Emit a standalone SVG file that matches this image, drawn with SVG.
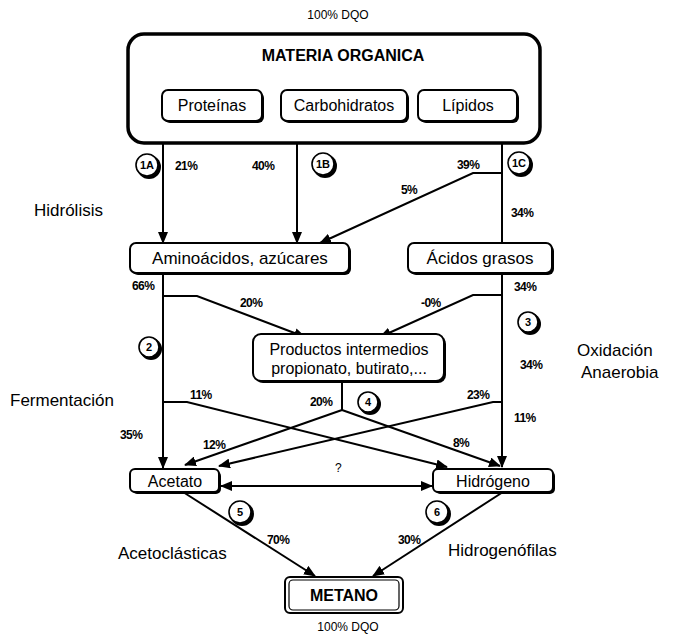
<svg xmlns="http://www.w3.org/2000/svg" width="674" height="635" viewBox="0 0 674 635">
  <style>
    text { font-family: "Liberation Sans", Arial, sans-serif; fill: #000; }
    .lbl { font-size: 16px; text-anchor: middle; }
    .big { font-size: 16px; font-weight: bold; text-anchor: middle; }
    .side { font-size: 17px; }
    .pct { font-size: 12px; font-weight: bold; letter-spacing: -0.6px; }
    .dqo { font-size: 12px; text-anchor: middle; }
    .box { fill: #fff; stroke: #000; stroke-width: 2; }
    .shadow { fill: #000; }
    .link { fill: none; stroke: #000; stroke-width: 2; }
    .arr { marker-end: url(#head); }
    .step circle.face { fill: #fff; stroke: #000; stroke-width: 1.6; }
    .step text { font-size: 11px; font-weight: bold; text-anchor: middle; }
  </style>
  <defs>
    <marker id="head" markerUnits="userSpaceOnUse" markerWidth="12" markerHeight="10" refX="11" refY="5" orient="auto-start-reverse">
      <path d="M0,0 L12,5 L0,10 z" fill="#000"/>
    </marker>
  </defs>

  <rect width="674" height="635" fill="#fff"/>

  <!-- top label -->
  <text class="dqo" x="338" y="19">100% DQO</text>

  <!-- organic matter with its three fractions -->
  <g id="materia-organica">
    <rect x="128" y="34" width="412" height="109" rx="16" fill="#fff" stroke="#000" stroke-width="3.5"/>
    <text class="big" x="343" y="61">MATERIA ORGANICA</text>
  </g>
  <g id="proteinas">
    <rect class="shadow" x="164" y="92" width="100" height="31" rx="6"/>
    <rect class="box" x="162" y="90" width="100" height="31" rx="6"/>
    <text class="lbl" x="212" y="111">Proteínas</text>
  </g>
  <g id="carbohidratos">
    <rect class="shadow" x="283" y="92" width="126" height="31" rx="6"/>
    <rect class="box" x="281" y="90" width="126" height="31" rx="6"/>
    <text class="lbl" x="344" y="111">Carbohidratos</text>
  </g>
  <g id="lipidos">
    <rect class="shadow" x="420" y="92" width="99" height="31" rx="6"/>
    <rect class="box" x="418" y="90" width="99" height="31" rx="6"/>
    <text class="lbl" x="468" y="111">Lípidos</text>
  </g>

  <!-- connectors -->
  <g id="connectors">
    <path class="link arr" d="M163,143 V243"/>
    <path class="link arr" d="M297,143 V243"/>
    <path class="link" d="M502,143 V243"/>
    <path class="link arr" d="M502,173 H473 L320,243"/>
    <path class="link arr" d="M163,273 V468"/>
    <path class="link arr" d="M163,296 H197 L305,337"/>
    <path class="link arr" d="M502,295 H473 L380,337"/>
    <path class="link arr" d="M502,273 V467"/>
    <path class="link arr" d="M163,402 H187 L447,467"/>
    <path class="link arr" d="M502,402 H493 L219,466"/>
    <path class="link" d="M342,382 V410"/>
    <path class="link arr" d="M342,410 L185,465"/>
    <path class="link arr" d="M342,410 L500,466"/>
    <path class="link" d="M221,486 H432" marker-start="url(#head)" marker-end="url(#head)"/>
    <path class="link arr" d="M183,492 L315,576"/>
    <path class="link arr" d="M503,492 L373,576"/>
  </g>

  <!-- intermediate nodes -->
  <g id="aminoacidos">
    <rect class="shadow" x="132" y="245" width="219" height="30" rx="6"/>
    <rect class="box" x="130" y="243" width="219" height="30" rx="6"/>
    <text class="lbl" x="240" y="264" style="font-size:17px">Aminoácidos, azúcares</text>
  </g>
  <g id="acidos-grasos">
    <rect class="shadow" x="410" y="245" width="144" height="30" rx="6"/>
    <rect class="box" x="408" y="243" width="144" height="30" rx="6"/>
    <text class="lbl" x="480" y="264" style="font-size:17px">Ácidos grasos</text>
  </g>
  <g id="productos-intermedios">
    <rect class="shadow" x="255" y="336" width="191" height="47" rx="8"/>
    <rect class="box" x="253" y="334" width="191" height="47" rx="8"/>
    <text class="lbl" x="349" y="355">Productos intermedios</text>
    <text class="lbl" x="349" y="374">propionato, butirato,...</text>
  </g>
  <g id="acetato">
    <rect class="shadow" x="132" y="471" width="89" height="23" rx="5"/>
    <rect class="box" x="130" y="469" width="89" height="23" rx="5"/>
    <text class="lbl" x="175" y="487">Acetato</text>
  </g>
  <g id="hidrogeno">
    <rect class="shadow" x="435" y="471" width="120" height="23" rx="5"/>
    <rect class="box" x="433" y="469" width="120" height="23" rx="5"/>
    <text class="lbl" x="493" y="487">Hidrógeno</text>
  </g>
  <g id="metano">
    <rect x="285" y="577" width="118" height="36" rx="5" fill="#fff" stroke="#000" stroke-width="2"/>
    <rect x="289" y="580" width="110" height="30" rx="4" fill="none" stroke="#000" stroke-width="1.2"/>
    <text class="big" x="344" y="601">METANO</text>
  </g>
  <text class="dqo" x="348" y="631">100% DQO</text>

  <!-- numbered process steps -->
  <g class="step" id="step-1a"><circle class="shadow" cx="149" cy="167" r="12"/><circle class="face" cx="147" cy="165" r="11"/><text x="147" y="169">1A</text></g>
  <g class="step" id="step-1b"><circle class="shadow" cx="325" cy="166" r="12"/><circle class="face" cx="323" cy="164" r="11"/><text x="323" y="168">1B</text></g>
  <g class="step" id="step-1c"><circle class="shadow" cx="521" cy="165" r="12"/><circle class="face" cx="519" cy="163" r="11"/><text x="519" y="167">1C</text></g>
  <g class="step" id="step-2"><circle class="shadow" cx="151" cy="349" r="11"/><circle class="face" cx="149" cy="347" r="10"/><text x="149" y="351">2</text></g>
  <g class="step" id="step-3"><circle class="shadow" cx="530" cy="324" r="11"/><circle class="face" cx="528" cy="322" r="10"/><text x="528" y="326">3</text></g>
  <g class="step" id="step-4"><circle class="shadow" cx="370" cy="404" r="11"/><circle class="face" cx="368" cy="402" r="10"/><text x="368" y="406">4</text></g>
  <g class="step" id="step-5"><circle class="shadow" cx="242" cy="514" r="12"/><circle class="face" cx="240" cy="512" r="11"/><text x="240" y="516">5</text></g>
  <g class="step" id="step-6"><circle class="shadow" cx="439" cy="514" r="12"/><circle class="face" cx="437" cy="512" r="11"/><text x="437" y="516">6</text></g>

  <!-- percentages -->
  <g id="percentages">
    <text class="pct" x="175" y="170">21%</text>
    <text class="pct" x="252" y="170">40%</text>
    <text class="pct" x="457" y="169">39%</text>
    <text class="pct" x="401" y="194">5%</text>
    <text class="pct" x="511" y="217">34%</text>
    <text class="pct" x="132" y="290">66%</text>
    <text class="pct" x="514" y="291">34%</text>
    <text class="pct" x="240" y="307">20%</text>
    <text class="pct" x="421" y="307">-0%</text>
    <text class="pct" x="520" y="369">34%</text>
    <text class="pct" x="190" y="399">11%</text>
    <text class="pct" x="310" y="406">20%</text>
    <text class="pct" x="467" y="399">23%</text>
    <text class="pct" x="514" y="422">11%</text>
    <text class="pct" x="120" y="439">35%</text>
    <text class="pct" x="203" y="449">12%</text>
    <text class="pct" x="453" y="447">8%</text>
    <text class="pct" x="267" y="544">70%</text>
    <text class="pct" x="398" y="544">30%</text>
    <text class="pct" x="335" y="472" style="font-weight:normal">?</text>
  </g>

  <!-- stage names -->
  <g id="stage-names">
    <text class="side" x="34" y="216">Hidrólisis</text>
    <text class="side" x="10" y="406">Fermentación</text>
    <text class="side" x="577" y="356">Oxidación</text>
    <text class="side" x="581" y="378">Anaerobia</text>
    <text class="side" x="118" y="559">Acetoclásticas</text>
    <text class="side" x="448" y="556">Hidrogenófilas</text>
  </g>
</svg>
